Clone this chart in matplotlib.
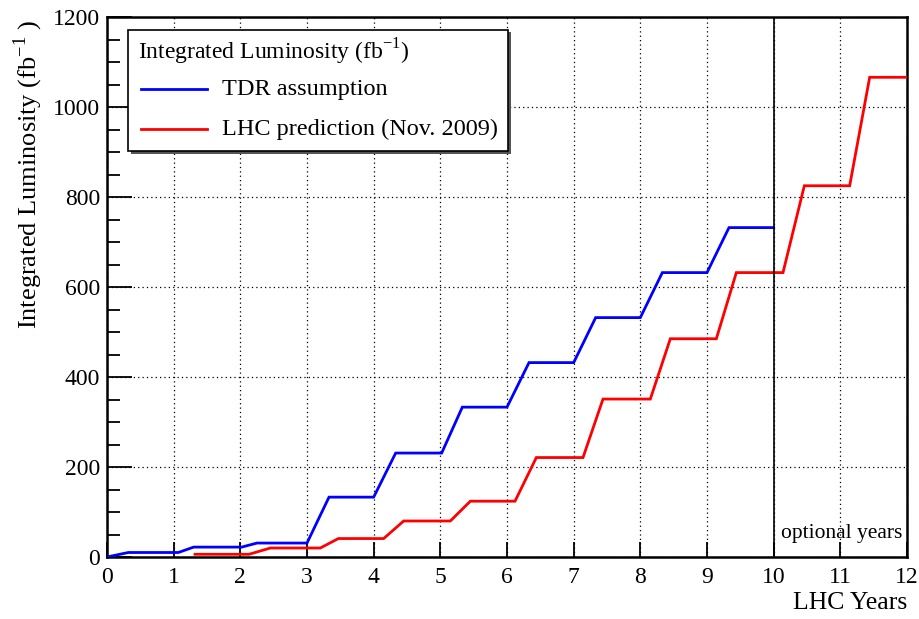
import matplotlib
matplotlib.use("Agg")
import matplotlib.pyplot as plt
from matplotlib.ticker import MultipleLocator
from matplotlib.patches import Rectangle
from matplotlib.lines import Line2D

plt.rcParams['font.family'] = ['Liberation Serif', 'DejaVu Serif']
plt.rcParams['mathtext.fontset'] = 'custom'
plt.rcParams['mathtext.rm'] = 'Liberation Serif'

# TDR assumption (cumulative integrated luminosity, fb^-1)
tdr_x = [0, 0.32, 1.07, 1.30, 2.02, 2.25, 3.00, 3.33, 4.00, 4.33, 5.02, 5.33,
         6.00, 6.33, 7.00, 7.33, 8.00, 8.33, 9.00, 9.33, 10.00]
tdr_y = [0, 10, 10, 22, 22, 31, 31, 133, 133, 231, 231, 333,
         333, 432, 432, 532, 532, 632, 632, 732, 732]

# LHC prediction (Nov. 2009)
lhc_x = [1.32, 2.13, 2.45, 3.20, 3.47, 4.15, 4.45, 5.15, 5.45, 6.12, 6.44,
         7.14, 7.44, 8.15, 8.45, 9.14, 9.44, 10.14, 10.46, 11.14, 11.44, 12.0]
lhc_y = [6, 6, 20, 20, 41, 41, 80, 80, 124, 124, 221,
         221, 351, 351, 485, 485, 632, 632, 825, 825, 1066, 1066]

series_labels = ["TDR assumption", "LHC prediction (Nov. 2009)"]
legend_title = "Integrated Luminosity (fb$^{\\mathregular{-1}}$)"
optional_start = 10

fig = plt.figure(figsize=(9.19, 6.19), dpi=100)
ax = fig.add_axes([107/919, 1-557/619, 800/919, 540/619])

ax.plot(tdr_x, tdr_y, color='#0000ff', lw=2.0, solid_joinstyle='miter', zorder=3)
ax.plot(lhc_x, lhc_y, color='#ff0000', lw=2.0, solid_joinstyle='miter', zorder=3)
ax.axvline(optional_start, color='black', lw=1.2, zorder=4)

ax.set_xlim(0, 12)
ax.set_ylim(0, 1200)
ax.xaxis.set_major_locator(MultipleLocator(1))
ax.yaxis.set_major_locator(MultipleLocator(200))
ax.yaxis.set_minor_locator(MultipleLocator(50))
ax.grid(True, which='major', color='black', linestyle=(0, (1, 2.5)), lw=0.9)
ax.tick_params(which='both', direction='in', top=False, right=False,
               labelsize=17, width=1.3, colors='black')
ax.tick_params(axis='y', which='major', length=18, pad=5)
ax.tick_params(axis='y', which='minor', length=9.5)
ax.tick_params(axis='x', which='major', length=11, pad=7)
for s in ax.spines.values():
    s.set_linewidth(1.8)

ax.set_xlabel("LHC Years", fontsize=18.5, ha='right', x=1.0, labelpad=3)
ax.set_ylabel("Integrated Luminosity (fb$^{\\mathregular{-1}}$ )", fontsize=19,
              ha='right', y=0.995, labelpad=6)

ax.text(11.93, 53, "optional years", fontsize=15.5, ha='right', va='center', zorder=5)

# legend box (ROOT style with shadow)
def px2ax(x, y):
    return ((x - 107) / 800, (557 - y) / 540)

lx0, ly0 = px2ax(128, 151)
lx1, ly1 = px2ax(508, 30)
sx, sy = 2.5 / 800, 2.5 / 540
ax.add_patch(Rectangle((lx0 + sx, ly0 - sy), lx1 - lx0, ly1 - ly0, transform=ax.transAxes,
                       facecolor='#555555', edgecolor='none', zorder=6, clip_on=False))
ax.add_patch(Rectangle((lx0, ly0), lx1 - lx0, ly1 - ly0, transform=ax.transAxes,
                       facecolor='white', edgecolor='black', lw=1.2, zorder=7, clip_on=False))
tx, ty = px2ax(138, 52)
ax.text(tx, ty, legend_title, transform=ax.transAxes, fontsize=17, va='center', ha='left', zorder=8)
for (yy, col, lab) in [(89, '#0000ff', series_labels[0]), (129, '#ff0000', series_labels[1])]:
    a0, b = px2ax(141, yy)
    a1, _ = px2ax(207, yy)
    ax.add_line(Line2D([a0, a1], [b, b], transform=ax.transAxes, color=col, lw=2.0, zorder=8))
    t0, _ = px2ax(222, yy)
    ax.text(t0, b, lab, transform=ax.transAxes, fontsize=17.5, va='center', ha='left', zorder=8)

fig.savefig("out.png", dpi=100)
